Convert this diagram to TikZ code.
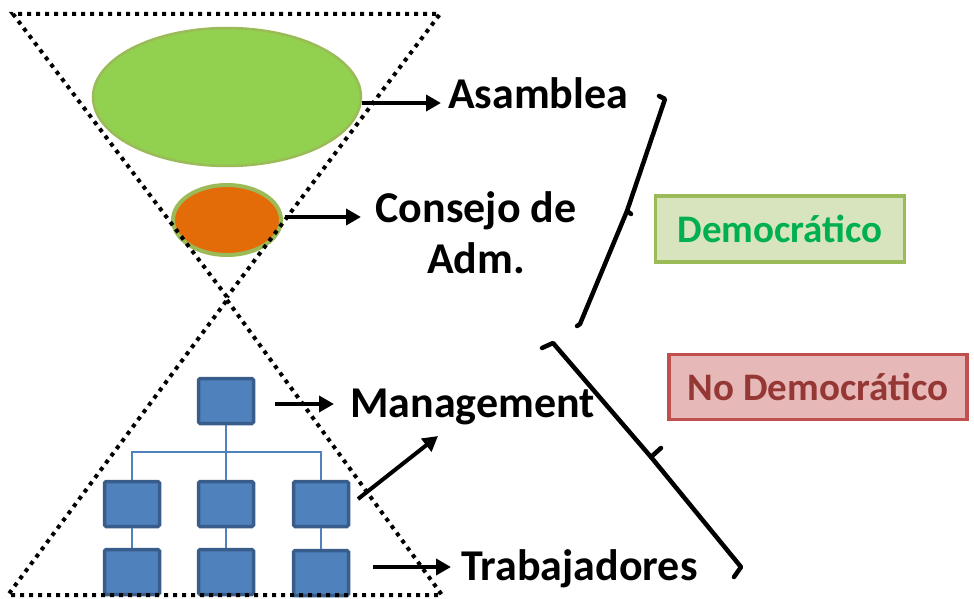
\documentclass[tikz,border=0pt]{standalone}
\usepackage{fontspec}
\setmainfont{Carlito}
\usetikzlibrary{arrows.meta,shapes.geometric}
\definecolor{lgreen}{HTML}{92D050}
\definecolor{olgreen}{HTML}{9BBB59}
\definecolor{orng}{HTML}{E36C09}
\definecolor{bfill}{HTML}{4F81BD}
\definecolor{bdraw}{HTML}{385D8A}
\definecolor{dgfill}{HTML}{D7E4BD}
\definecolor{dgtext}{HTML}{00B050}
\definecolor{rfill}{HTML}{E6B9B8}
\definecolor{rdraw}{HTML}{C0504D}
\definecolor{rtext}{HTML}{953735}
\tikzset{
  orgbox/.style={rectangle, fill=bfill, draw=bdraw, line width=3.5pt, rounded corners=1.5pt, minimum width=55pt, minimum height=45pt, inner sep=0pt},
  orgline/.style={draw=bfill, line width=1.3pt},
  arr/.style={line width=4pt, -{Triangle[length=15pt,width=16pt]}},
  lbl/.style={font=\bfseries\fontsize{44}{51}\selectfont, inner sep=0pt},
  dotline/.style={line width=4pt, dash pattern=on 4pt off 5pt},
  brace/.style={line width=4.5pt, line cap=round, line join=round},
  tag/.style={font=\bfseries\fontsize{39}{46}\selectfont, line width=3.5pt, inner sep=0pt}
}
\begin{document}
\begin{tikzpicture}[x=1pt,y=-1pt]
\useasboundingbox (0,0) rectangle (974,599);
% ellipses
\node[ellipse, fill=lgreen, draw=olgreen, line width=2.5pt, minimum width=268pt, minimum height=138pt, inner sep=0pt] (asam) at (227,97) {};
\node[ellipse, fill=orng, draw=olgreen, line width=4pt, minimum width=108pt, minimum height=70pt, inner sep=0pt] (cons) at (227,220) {};
% org chart
\node[orgbox] (b0) at (226,401) {};
\node[orgbox] (b1) at (132,504) {};
\node[orgbox] (b2) at (226,504) {};
\node[orgbox] (b3) at (321,504) {};
\node[orgbox] (c1) at (132,572) {};
\node[orgbox] (c2) at (226,572) {};
\node[orgbox] (c3) at (321,573) {};
\coordinate (hl) at (132,452);
\coordinate (hr) at (321,452);
\draw[orgline] (b0.south) -- (b2.north);
\draw[orgline] (b1.north) -- (hl) -- (hr) -- (b3.north);
\draw[orgline] (b1.south) -- (c1.north);
\draw[orgline] (b2.south) -- (c2.north);
\draw[orgline] (b3.south) -- (c3.north);
% labels
\node[lbl, anchor=base west] (tasam) at (448,109) {Asamblea};
\node[lbl, anchor=base, align=center] (tcons) at (476,273) {Consejo de\\Adm.};
\node[lbl, anchor=base west] (tman) at (350,417) {Management};
\node[lbl, anchor=base west] (ttrab) at (461,580) {Trabajadores};
% arrows
\coordinate (a1s) at (362,103);
\coordinate (a1e) at (441,103);
\draw[arr] (a1s) -- (a1e);
\coordinate (a2s) at (285,217);
\coordinate (a2e) at (361,217);
\draw[arr] (a2s) -- (a2e);
\coordinate (a3s) at (275,404);
\coordinate (a3e) at (334,404);
\draw[arr] (a3s) -- (a3e);
\coordinate (a4s) at (358,499);
\coordinate (a4e) at (438,436);
\draw[arr] (a4s) -- (a4e);
\coordinate (a5s) at (373,567);
\coordinate (a5e) at (451,567);
\draw[arr] (a5s) -- (a5e);
% dotted triangles
\coordinate (ut1) at (13,14);
\coordinate (ut2) at (440,14);
\coordinate (ut3) at (227,297);
\draw[dotline] (ut3) -- (ut1) -- (ut2) -- cycle;
\coordinate (lt1) at (227,300);
\coordinate (lt2) at (442,595);
\coordinate (lt3) at (8,595);
\draw[dotline] (lt1) -- (lt2) -- (lt3) -- cycle;
% braces
\coordinate (u0) at (659,96);
\coordinate (u1) at (665,99);
\coordinate (um) at (627,211);
\coordinate (umt) at (631,214);
\coordinate (u2) at (580,324);
\coordinate (u3) at (577,326);
\draw[brace] (u0) -- (u1) -- (um) -- (u2) -- (u3);
\draw[brace] (um) -- (umt);
\coordinate (l0) at (542,348);
\coordinate (l1) at (553,343);
\coordinate (lm) at (651,457);
\coordinate (lmt) at (661,448);
\coordinate (l2) at (741,567);
\coordinate (l3) at (734,577);
\draw[brace] (l0) -- (l1) -- (lm) -- (l2) -- (l3);
\draw[brace] (lm) -- (lmt);
% tags
\node[tag, draw=olgreen, fill=dgfill, text=dgtext, minimum width=249pt, minimum height=66pt] (dem) at (780,229) {Democrático};
\node[tag, draw=rdraw, fill=rfill, text=rtext, minimum width=298pt, minimum height=65pt] (nodem) at (818,387) {No Democrático};
\end{tikzpicture}
\end{document}
